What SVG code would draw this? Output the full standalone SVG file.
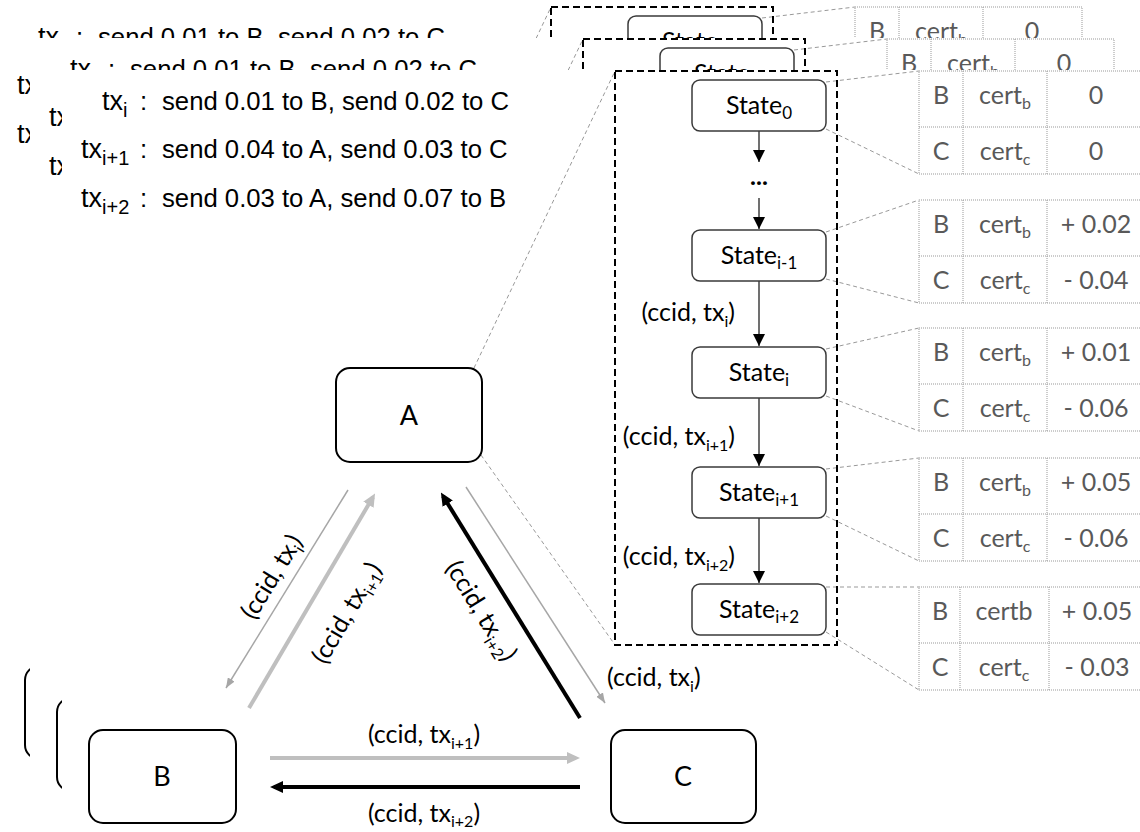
<svg xmlns="http://www.w3.org/2000/svg" xmlns:xlink="http://www.w3.org/1999/xlink" width="1140" height="832" viewBox="0 0 1140 832">
<defs>
<style>
.tx{font-family:"Liberation Sans",Arial,sans-serif;font-size:25.7px;fill:#000}
.txl{font-family:"Liberation Sans",Arial,sans-serif;font-size:27px;fill:#000}
.lb{font-family:Lato,"Open Sans",sans-serif;font-size:25px;fill:#000}
.st{font-family:Lato,"Open Sans",sans-serif;font-size:25px;fill:#000;text-anchor:middle}
.nd{font-family:Lato,"Open Sans",sans-serif;font-size:27px;fill:#000;text-anchor:middle}
.tb{font-family:Lato,"Open Sans",sans-serif;font-size:25px;fill:#595959;text-anchor:middle}
.node{fill:#fff;stroke:#000;stroke-width:2}
.state{fill:#fff;stroke:#3a3a3a;stroke-width:1.5}
.frame{fill:none;stroke:#000;stroke-width:2;stroke-dasharray:7 4}
.guide{fill:none;stroke:#999;stroke-width:1;stroke-dasharray:4 3}
.grid{fill:none;stroke:#999;stroke-width:1;stroke-dasharray:1 1}
.flow{stroke:#404040;stroke-width:1.5;marker-end:url(#ah)}
.thin{stroke:#a6a6a6;stroke-width:1.5;marker-end:url(#ahThin)}
.gthick{stroke:#bfbfbf;stroke-width:4;marker-end:url(#ahGray)}
.bthick{stroke:#000;stroke-width:4;marker-end:url(#ahBlack)}
</style>
<marker id="ah" viewBox="0 0 12 12" markerWidth="12" markerHeight="12" refX="12" refY="6" orient="auto" markerUnits="userSpaceOnUse"><path d="M0,0L12,6L0,12z" fill="#000"/></marker>
<marker id="ahThin" viewBox="0 0 10 8" markerWidth="10" markerHeight="8" refX="10" refY="4" orient="auto" markerUnits="userSpaceOnUse"><path d="M0,0L10,4L0,8z" fill="#a6a6a6"/></marker>
<marker id="ahGray" viewBox="0 0 13 12" markerWidth="13" markerHeight="12" refX="9" refY="6" orient="auto" markerUnits="userSpaceOnUse"><path d="M0,0L13,6L0,12z" fill="#bfbfbf"/></marker>
<marker id="ahBlack" viewBox="0 0 13 12" markerWidth="13" markerHeight="12" refX="9" refY="6" orient="auto" markerUnits="userSpaceOnUse"><path d="M0,0L13,6L0,12z" fill="#000"/></marker>
</defs>
<rect x="0" y="0" width="1140" height="832" fill="#fff"/>
<use href="#scene" xlink:href="#scene" transform="translate(-64,-64)"/>
<use href="#scene" xlink:href="#scene" transform="translate(-32,-32)"/>
<g id="scene">
<rect x="62" y="70" width="1300" height="1000" fill="#fff"/>
<g id="txlist">
<text class="txl" x="102" y="110">tx<tspan dy="7" font-size="20">i</tspan></text>
<text class="tx" x="140" y="110">:</text>
<text class="tx" x="162" y="110">send 0.01 to B, send 0.02 to C</text>
<text class="txl" x="81" y="158">tx<tspan dy="7" font-size="20">i+1</tspan></text>
<text class="tx" x="140" y="158">:</text>
<text class="tx" x="162" y="158">send 0.04 to A, send 0.03 to C</text>
<text class="txl" x="81" y="207">tx<tspan dy="7" font-size="20">i+2</tspan></text>
<text class="tx" x="140" y="207">:</text>
<text class="tx" x="162" y="207">send 0.03 to A, send 0.07 to B</text>
</g>
<g id="guides">
<line class="guide" x1="474" y1="368" x2="615" y2="71"/>
<line class="guide" x1="481" y1="455" x2="615" y2="645"/>
<line class="guide" x1="826" y1="82" x2="919" y2="71"/>
<line class="guide" x1="826" y1="129" x2="919" y2="174"/>
<line class="guide" x1="826" y1="232" x2="919" y2="200"/>
<line class="guide" x1="826" y1="279" x2="919" y2="303"/>
<line class="guide" x1="826" y1="349" x2="919" y2="328"/>
<line class="guide" x1="826" y1="396" x2="919" y2="431"/>
<line class="guide" x1="826" y1="469" x2="919" y2="458"/>
<line class="guide" x1="826" y1="516" x2="919" y2="561"/>
<line class="guide" x1="826" y1="587" x2="919" y2="587"/>
<line class="guide" x1="826" y1="632" x2="919" y2="690"/>
</g>
<rect id="ledger-frame" class="frame" x="615" y="71" width="222" height="574"/>
<g id="connectors">
<line class="flow" x1="759" y1="131" x2="759" y2="162"/>
<line class="flow" x1="759" y1="198" x2="759" y2="229"/>
<line class="flow" x1="759" y1="281" x2="759" y2="346"/>
<line class="flow" x1="759" y1="398" x2="759" y2="466"/>
<line class="flow" x1="759" y1="518" x2="759" y2="583"/>
<text class="lb" x="735" y="321" text-anchor="end">(ccid, tx<tspan dy="6" font-size="16">i</tspan><tspan dy="-6">)</tspan></text>
<text class="lb" x="735" y="445" text-anchor="end">(ccid, tx<tspan dy="6" font-size="16">i+1</tspan><tspan dy="-6">)</tspan></text>
<text class="lb" x="735" y="565" text-anchor="end">(ccid, tx<tspan dy="6" font-size="16">i+2</tspan><tspan dy="-6">)</tspan></text>
<line class="thin" x1="348" y1="490" x2="226" y2="688"/>
<line class="gthick" x1="249" y1="708" x2="373" y2="497"/>
<line class="bthick" x1="580" y1="718" x2="443" y2="496"/>
<line class="thin" x1="466" y1="487" x2="605" y2="703"/>
<line class="gthick" x1="270" y1="758" x2="576" y2="758"/>
<line class="bthick" x1="580" y1="787" x2="274" y2="787"/>
<text class="lb" text-anchor="middle" transform="translate(272,577) rotate(-58.4)" x="0" y="8">(ccid, tx<tspan dy="6" font-size="16">i</tspan><tspan dy="-6">)</tspan></text>
<text class="lb" text-anchor="middle" transform="translate(347,613) rotate(-59.6)" x="0" y="8">(ccid, tx<tspan dy="6" font-size="16">i+1</tspan><tspan dy="-6">)</tspan></text>
<text class="lb" text-anchor="middle" transform="translate(481,611) rotate(58.3)" x="0" y="8">(ccid, tx<tspan dy="6" font-size="16">i+2</tspan><tspan dy="-6">)</tspan></text>
<text class="lb" x="607" y="686">(ccid, tx<tspan dy="6" font-size="16">i</tspan><tspan dy="-6">)</tspan></text>
<text class="lb" x="424" y="743" text-anchor="middle">(ccid, tx<tspan dy="6" font-size="16">i+1</tspan><tspan dy="-6">)</tspan></text>
<text class="lb" x="424" y="822" text-anchor="middle">(ccid, tx<tspan dy="5" font-size="16">i+2</tspan><tspan dy="-5">)</tspan></text>
</g>
<text class="st" x="759" y="185" font-weight="bold" font-size="26">...</text>
<g id="state0"><rect class="state" x="692" y="80" width="134" height="51" rx="8"/><text class="st" x="759" y="114">State<tspan dy="5" font-size="17">0</tspan></text></g>
<g id="state-i-1"><rect class="state" x="692" y="230" width="134" height="51" rx="8"/><text class="st" x="759" y="264">State<tspan dy="5" font-size="17">i-1</tspan></text></g>
<g id="state-i"><rect class="state" x="692" y="347" width="134" height="51" rx="8"/><text class="st" x="759" y="381">State<tspan dy="5" font-size="17">i</tspan></text></g>
<g id="state-i1"><rect class="state" x="692" y="467" width="134" height="51" rx="8"/><text class="st" x="759" y="501">State<tspan dy="5" font-size="17">i+1</tspan></text></g>
<g id="state-i2"><rect class="state" x="692" y="584" width="134" height="51" rx="8"/><text class="st" x="759" y="618">State<tspan dy="5" font-size="17">i+2</tspan></text></g>
<g id="table0" transform="translate(0,71)">
<rect class="grid" x="919" y="0" width="227" height="103"/><line class="grid" x1="919" y1="56" x2="1146" y2="56"/><line class="grid" x1="963" y1="0" x2="963" y2="103"/><line class="grid" x1="1047" y1="0" x2="1047" y2="103"/>
<text class="tb" x="941" y="33">B</text><text class="tb" x="1005" y="33">cert<tspan dy="5" font-size="16">b</tspan></text><text class="tb" x="1096" y="33">0</text>
<text class="tb" x="941" y="89">C</text><text class="tb" x="1005" y="89">cert<tspan dy="5" font-size="16">c</tspan></text><text class="tb" x="1096" y="89">0</text>
</g>
<g id="table1" transform="translate(0,200)">
<rect class="grid" x="919" y="0" width="227" height="103"/><line class="grid" x1="919" y1="56" x2="1146" y2="56"/><line class="grid" x1="963" y1="0" x2="963" y2="103"/><line class="grid" x1="1047" y1="0" x2="1047" y2="103"/>
<text class="tb" x="941" y="33">B</text><text class="tb" x="1005" y="33">cert<tspan dy="5" font-size="16">b</tspan></text><text class="tb" x="1096" y="33">+ 0.02</text>
<text class="tb" x="941" y="89">C</text><text class="tb" x="1005" y="89">cert<tspan dy="5" font-size="16">c</tspan></text><text class="tb" x="1096" y="89">- 0.04</text>
</g>
<g id="table2" transform="translate(0,328)">
<rect class="grid" x="919" y="0" width="227" height="103"/><line class="grid" x1="919" y1="56" x2="1146" y2="56"/><line class="grid" x1="963" y1="0" x2="963" y2="103"/><line class="grid" x1="1047" y1="0" x2="1047" y2="103"/>
<text class="tb" x="941" y="33">B</text><text class="tb" x="1005" y="33">cert<tspan dy="5" font-size="16">b</tspan></text><text class="tb" x="1096" y="33">+ 0.01</text>
<text class="tb" x="941" y="89">C</text><text class="tb" x="1005" y="89">cert<tspan dy="5" font-size="16">c</tspan></text><text class="tb" x="1096" y="89">- 0.06</text>
</g>
<g id="table3" transform="translate(0,458)">
<rect class="grid" x="919" y="0" width="227" height="103"/><line class="grid" x1="919" y1="56" x2="1146" y2="56"/><line class="grid" x1="963" y1="0" x2="963" y2="103"/><line class="grid" x1="1047" y1="0" x2="1047" y2="103"/>
<text class="tb" x="941" y="33">B</text><text class="tb" x="1005" y="33">cert<tspan dy="5" font-size="16">b</tspan></text><text class="tb" x="1096" y="33">+ 0.05</text>
<text class="tb" x="941" y="89">C</text><text class="tb" x="1005" y="89">cert<tspan dy="5" font-size="16">c</tspan></text><text class="tb" x="1096" y="89">- 0.06</text>
</g>
<g id="table4" transform="translate(0,587)">
<rect class="grid" x="919" y="0" width="227" height="103"/><line class="grid" x1="919" y1="56" x2="1146" y2="56"/><line class="grid" x1="960" y1="0" x2="960" y2="103"/><line class="grid" x1="1049" y1="0" x2="1049" y2="103"/>
<text class="tb" x="940" y="33">B</text><text class="tb" x="1004" y="33">certb</text><text class="tb" x="1097" y="33">+ 0.05</text>
<text class="tb" x="940" y="89">C</text><text class="tb" x="1004" y="89">cert<tspan dy="5" font-size="16">c</tspan></text><text class="tb" x="1097" y="89">- 0.03</text>
</g>
<g id="nodeA"><rect class="node" x="336" y="368" width="146" height="94" rx="14"/><text class="nd" x="409" y="425">A</text></g>
<g id="nodeB"><rect class="node" x="89" y="730" width="147" height="93" rx="14"/><text class="nd" x="162" y="786">B</text></g>
<g id="nodeC"><rect class="node" x="611" y="730" width="145" height="93" rx="14"/><text class="nd" x="683" y="786">C</text></g>
</g>
</svg>
